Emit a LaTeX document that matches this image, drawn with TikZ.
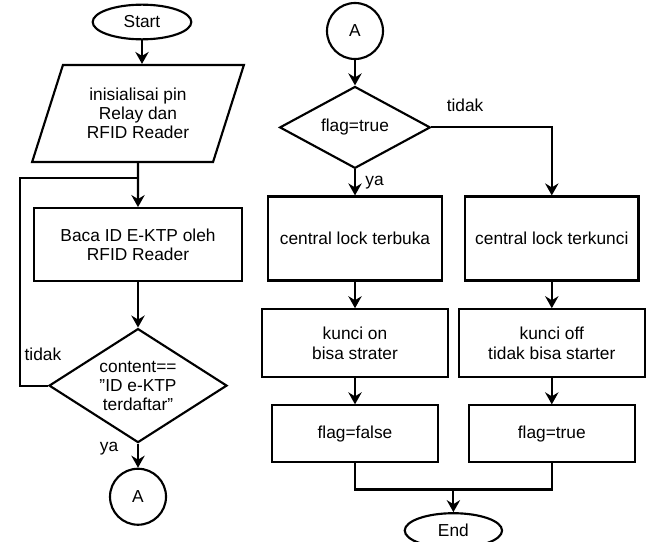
\documentclass[tikz,border=0pt]{standalone}
\usepackage{fontspec}
\setmainfont{Liberation Sans}
\usetikzlibrary{shapes.geometric, arrows.meta, positioning, calc}
\tikzset{
    terminal/.style={ellipse, draw, line width=1.6pt, minimum width=74pt, minimum height=26pt, inner sep=0pt},
    io/.style={trapezium, trapezium left angle=67.6, trapezium right angle=112.4, trapezium stretches=true, draw, line width=1.6pt, align=center, minimum width=159pt, minimum height=72.75pt, inner sep=0pt},
    process/.style={rectangle, draw, line width=1.6pt, align=center, inner sep=0pt},
    decision/.style={diamond, draw, line width=1.6pt, align=center, inner sep=0pt},
    connector/.style={circle, draw, line width=1.6pt, minimum size=42pt, inner sep=0pt},
    arrow/.style={line width=1.6pt, -{Stealth[length=9pt, width=10pt, inset=3pt]}},
    line/.style={line width=1.6pt},
    lbl/.style={inner sep=0pt}
}

\begin{document}
\begin{tikzpicture}[x=0.75pt, y=-0.75pt, font=\fontsize{13}{14.3}\selectfont]
    \useasboundingbox (0,0) rectangle (653,542);

    % Left column
    \node (start) [terminal] at (142,22) {Start};
    \node (init) [io] at (138,113.5) {inisialisai pin\\Relay dan\\RFID Reader};
    \node (read) [process, below=33pt of init, minimum width=156pt, minimum height=54.75pt] {Baca ID E-KTP oleh\\RFID Reader};
    \node (cond) [decision, below=34pt of read, aspect=1.56, minimum width=133.5pt, minimum height=85.5pt] {content==\\\symbol{34}ID e-KTP\\terdaftar\symbol{34}};
    \node (A1) [connector, below=18pt of cond] {A};
    \coordinate (loopin) at ($(init.south)!0.34!(read.north)$);

    % Right column
    \node (A2) [connector] at (355,31) {A};
    \node (flag) [decision, below=19pt of A2, aspect=1.84, inner xsep=0pt, inner ysep=10.8pt] {flag=true};
    \node (open) [process, below=19.5pt of flag, minimum width=130.5pt, minimum height=63pt] {central lock terbuka};
    \node (lock) [process, right=15.75pt of open, minimum width=130pt, minimum height=63pt] {central lock terkunci};
    \node (on) [process, below=20pt of open, minimum width=139pt, minimum height=51pt] {kunci on\\bisa strater};
    \node (off) [process, below=20pt of lock, minimum width=139.5pt, minimum height=51pt] {kunci off\\tidak bisa starter};
    \node (ff) [process, below=19.5pt of on, minimum width=124pt, minimum height=42.75pt] {flag=false};
    \node (ft) [process, below=19.5pt of off, minimum width=124.5pt, minimum height=42.75pt] {flag=true};
    \coordinate (mrg) at ($(ff.south)!0.5!(ft.south)+(0pt,-19.5pt)$);
    \node (end) [terminal, below=17pt of mrg, minimum width=73pt] {End};

    % Arrows
    \draw [arrow] (start.south) -- (start.south |- init.north);
    \draw [arrow] (init) -- (read);
    \draw [arrow] (read) -- (cond);
    \draw [arrow] (cond) -- node[lbl, left=14pt, pos=0.2] {ya} (A1);
    \draw [line] (cond.west) -- node[lbl, above=18pt, pos=0.18] {tidak} ++(-21pt,0pt) |- (loopin);

    \draw [arrow] (A2) -- (flag);
    \draw [arrow] (flag) -- node[lbl, right=7pt, pos=0.5] {ya} (open);
    \draw [arrow] (flag.east) -| node[lbl, above=11pt, pos=0.14] {tidak} (lock.north);
    \draw [arrow] (open) -- (on);
    \draw [arrow] (lock) -- (off);
    \draw [arrow] (on) -- (ff);
    \draw [arrow] (off) -- (ft);
    \draw [line] (ff.south) |- (mrg) -| (ft.south);
    \draw [arrow] (mrg) -- (end);

\end{tikzpicture}
\end{document}
